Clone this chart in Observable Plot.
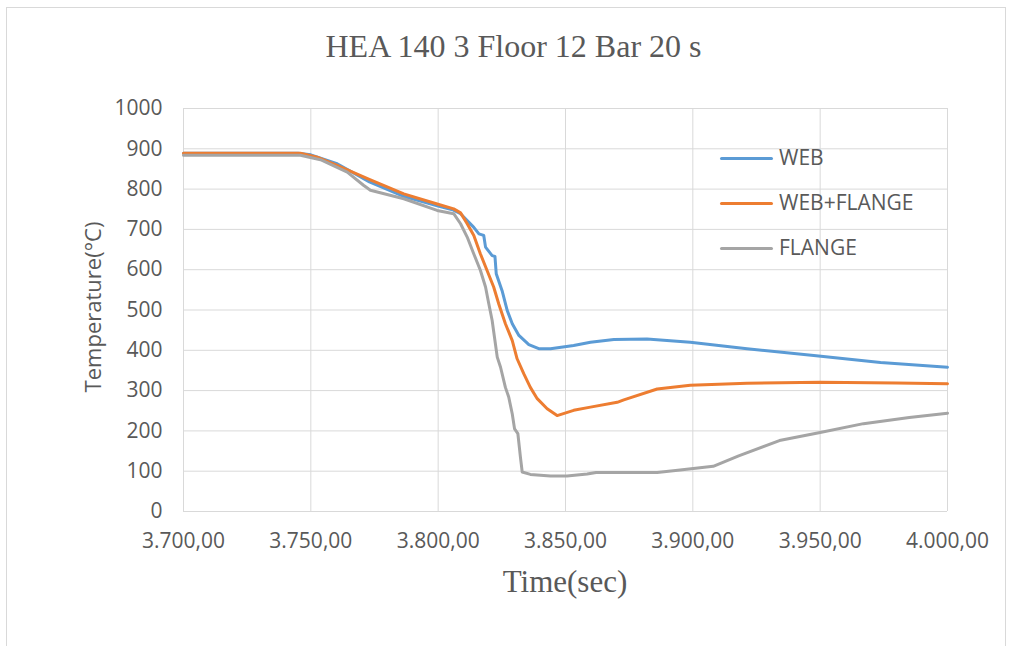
<!DOCTYPE html>
<html>
<head>
<meta charset="utf-8">
<script src="https://cdn.jsdelivr.net/npm/d3@7"></script>
<script src="https://cdn.jsdelivr.net/npm/@observablehq/plot@0.6"></script>
<style>
  body { margin: 0; background: #fff; }
  #wrap { position: relative; width: 1011px; height: 646px; overflow: hidden; background: #fff; }
  .abs { position: absolute; }
  .sans { font-family: "Open Sans", sans-serif; color: #595959; }
  .serif { font-family: "Liberation Serif", "Times New Roman", serif; color: #595959; }
</style>
</head>
<body>
<div id="wrap">
  <div class="abs" style="left:6px;top:7px;width:998px;height:700px;border:1px solid #d9d9d9;"></div>
  <div class="abs serif" id="title" style="left:16px;top:30px;width:995px;text-align:center;font-size:32px;line-height:32px;white-space:nowrap;"></div>
  <div class="abs" id="chart" style="left:0;top:80px;"></div>
  <div class="abs serif" id="xlabel" style="left:365px;top:566px;width:400px;text-align:center;font-size:31px;line-height:31px;white-space:nowrap;"></div>
  <div class="abs sans" id="ylabel" style="left:92px;top:307px;transform:translate(-50%,-50%) rotate(-90deg);font-size:22px;line-height:22px;white-space:nowrap;"></div>
  <div id="legend"></div>
</div>
<script>
const titleText = "HEA 140 3 Floor 12 Bar 20 s";
const xLabel = "Time(sec)";
const yLabel = "Temperature(°C)";
const seriesNames = ["WEB", "WEB+FLANGE", "FLANGE"];
const seriesColors = ["#5b9bd5", "#ed7d31", "#a5a5a5"];
const xTicks = [3700, 3750, 3800, 3850, 3900, 3950, 4000];
const yTicks = [0, 100, 200, 300, 400, 500, 600, 700, 800, 900, 1000];

// WEB
const webT = [3700, 3745, 3750, 3760, 3773, 3786, 3800, 3806, 3808.8, 3814, 3816, 3817.9, 3818.6, 3821.2, 3822.3, 3822.8, 3825.1, 3827.1, 3829.1, 3831.7, 3835.6, 3839.5, 3844.1, 3853.2, 3859.8, 3869, 3882, 3899, 3921.3, 3947.5, 3973.7, 4000];
const webV = [889, 889, 885, 864, 818, 783, 758, 748, 739, 705, 689, 685, 656, 635, 633, 590, 548, 499, 466, 437, 414, 404, 404, 412, 420, 427, 428, 420, 404, 387, 370, 358];

// WEB+FLANGE
const wfT = [3700, 3745.9, 3752.5, 3760.3, 3773.4, 3786.5, 3799.6, 3806.1, 3808.8, 3811.4, 3814, 3816.6, 3819.2, 3821.8, 3823.8, 3826.4, 3829.1, 3831, 3833.6, 3836.2, 3838.9, 3842.8, 3846.7, 3853.2, 3859.8, 3870.3, 3872.9, 3886, 3899, 3921.3, 3950, 3980, 4000];
const wfV = [889, 889, 879, 859, 823, 788, 763, 751, 741, 714, 685, 639, 598, 557, 515, 466, 424, 379, 342, 308, 280, 255, 238, 251, 259, 271, 277, 304, 313, 318, 321, 319, 317];

// FLANGE
const flT = [3700, 3745.9, 3753.8, 3764.3, 3770.8, 3773.4, 3786.5, 3799.6, 3806.1, 3808.8, 3811.4, 3814, 3816.6, 3818.6, 3819.9, 3821.2, 3822.1, 3823.2, 3824.5, 3826.4, 3827.7, 3829.1, 3830, 3831.3, 3832.3, 3833, 3836.2, 3844.1, 3850.6, 3858.5, 3862, 3886, 3895, 3908, 3918, 3934, 3950, 3967, 3985, 4000];
const flV = [884, 884, 873, 842, 809, 797, 776, 747, 739, 714, 681, 639, 598, 557, 515, 474, 433, 383, 358, 308, 284, 242, 205, 193, 135, 98, 92, 88, 88, 93, 97, 97, 103, 112, 138, 176, 196, 218, 233, 244];

const seriesT = [webT, wfT, flT];
const seriesV = [webV, wfV, flV];
const data = [];
seriesNames.forEach((name, i) => {
  seriesT[i].forEach((t, j) => data.push({series: name, t, v: seriesV[i][j]}));
});

const loc = d3.formatLocale({decimal: ",", thousands: ".", grouping: [3], currency: ["", ""]});
const fmtX = loc.format(",.2f");
const fmtY = d3.format("d");

document.getElementById("title").textContent = titleText;
document.getElementById("xlabel").textContent = xLabel;
document.getElementById("ylabel").textContent = yLabel;

const plot = Plot.plot({
  width: 1011,
  height: 491,
  marginLeft: 183,
  marginRight: 64,
  marginTop: 28,
  marginBottom: 60,
  style: {fontFamily: "Open Sans, sans-serif", fontSize: "21px", color: "#595959", background: "transparent"},
  x: {domain: [3700, 4000]},
  y: {domain: [0, 1000]},
  color: {domain: seriesNames, range: seriesColors},
  marks: [
    Plot.gridX(xTicks, {stroke: "#d9d9d9", strokeOpacity: 1, strokeWidth: 1}),
    Plot.gridY(yTicks, {stroke: "#d9d9d9", strokeOpacity: 1, strokeWidth: 1}),
    Plot.line(data, {x: "t", y: "v", z: "series", stroke: "series", strokeWidth: 3, strokeLinejoin: "round", strokeLinecap: "round"}),
    Plot.axisX(xTicks, {tickSize: 0, tickPadding: 22, tickFormat: fmtX, label: null}),
    Plot.axisY(yTicks, {tickSize: 0, tickPadding: 21, tickFormat: fmtY, label: null})
  ]
});
document.getElementById("chart").appendChild(plot);

const legend = document.getElementById("legend");
const legendTops = [147, 192, 237];
seriesNames.forEach((name, i) => {
  const ln = document.createElement("div");
  ln.className = "abs";
  ln.style.cssText = `left:720px;top:${legendTops[i] + 10}px;width:53px;height:3px;border-radius:2px;background:${seriesColors[i]};`;
  legend.appendChild(ln);
  const tx = document.createElement("div");
  tx.className = "abs sans";
  tx.style.cssText = `left:779px;top:${legendTops[i]}px;font-size:21px;line-height:21px;white-space:nowrap;`;
  tx.textContent = name;
  legend.appendChild(tx);
});
</script>
</body>
</html>
